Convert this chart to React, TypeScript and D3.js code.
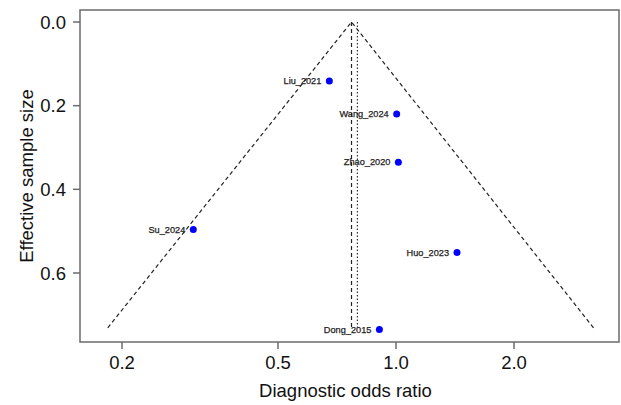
import React from "react";
import * as d3 from "d3";

const studies = ["Liu_2021", "Wang_2024", "Zhao_2020", "Su_2024", "Huo_2023", "Dong_2015"];
const dor = [0.676, 1.004, 1.014, 0.304, 1.431, 0.907];
const ess = [0.141, 0.220, 0.335, 0.496, 0.551, 0.735];
const xTicks = [0.2, 0.5, 1.0, 2.0];
const yTicks = [0.0, 0.2, 0.4, 0.6];
const summaryDor = 0.77;
const fixedDor = 0.797;
const funnelLeft = 0.184;
const funnelRight = 3.19;
const funnelBottom = 0.731;

const W = 621, H = 405;
const left = 80, right = 619, top = 10, bottom = 342;

export default function App() {
  const x = d3.scaleLog().domain([0.2, 1.0]).range([122, 396]);
  const y = d3.scaleLinear().domain([0, 0.6]).range([22, 273]);
  const line = d3.line<[number, number]>().x(d => x(d[0])).y(d => y(d[1]));
  const font = "'Liberation Sans', Arial, Helvetica, sans-serif";
  return (
    <svg width={W} height={H} style={{ position: "absolute", left: 0, top: 0, background: "#fff" }} fontFamily={font}>
      <rect x={left} y={top} width={right - left} height={bottom - top} fill="none" stroke="#6b6b6b" strokeWidth={1.5} />
      {/* funnel */}
      <path d={line([[funnelLeft, funnelBottom], [summaryDor, 0], [funnelRight, funnelBottom]]) || ""} fill="none" stroke="#222" strokeWidth={1.2} strokeDasharray="4,3" />
      <path d={line([[summaryDor, 0], [summaryDor, funnelBottom]]) || ""} fill="none" stroke="#222" strokeWidth={1.2} strokeDasharray="4,3" />
      <path d={line([[fixedDor, 0], [fixedDor, funnelBottom]]) || ""} fill="none" stroke="#222" strokeWidth={1.1} strokeDasharray="1.5,2" />
      {/* points */}
      {studies.map((s, i) => (
        <g key={s}>
          <circle cx={x(dor[i])} cy={y(ess[i])} r={3.5} fill="#0000ff" />
          <text x={x(dor[i]) - 8} y={y(ess[i])} dy="0.35em" textAnchor="end" fontSize={9.2} fill="#222" stroke="#222" strokeWidth={0.25}>{s}</text>
        </g>
      ))}
      {/* x axis */}
      {xTicks.map(t => (
        <g key={t}>
          <line x1={x(t)} x2={x(t)} y1={bottom} y2={bottom + 7} stroke="#6b6b6b" strokeWidth={1.5} />
          <text x={x(t)} y={369} textAnchor="middle" fontSize={18.5} fill="#111">{t.toFixed(1)}</text>
        </g>
      ))}
      {yTicks.map(t => (
        <g key={t}>
          <line x1={left - 7} x2={left} y1={y(t)} y2={y(t)} stroke="#6b6b6b" strokeWidth={1.5} />
          <text x={left - 14} y={y(t)} dy="0.36em" textAnchor="end" fontSize={18.5} fill="#111">{t.toFixed(1)}</text>
        </g>
      ))}
      <text x={345.5} y={397} textAnchor="middle" fontSize={18.5} fill="#111">Diagnostic odds ratio</text>
      <text transform={`translate(33,176) rotate(-90)`} textAnchor="middle" fontSize={18.5} fill="#111">Effective sample size</text>
    </svg>
  );
}
